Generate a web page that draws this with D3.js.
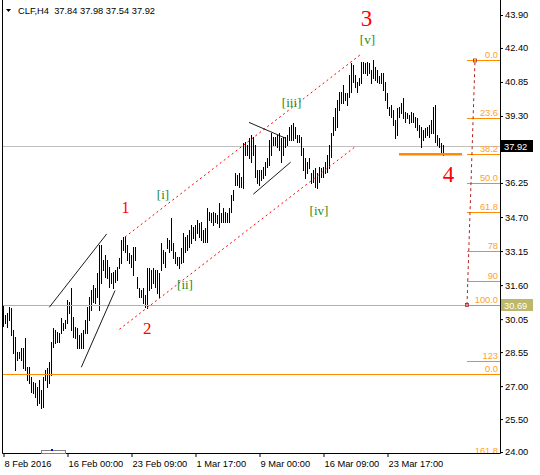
<!DOCTYPE html>
<html>
<head>
<meta charset="utf-8">
<title>CLF,H4</title>
<script src="https://cdn.jsdelivr.net/npm/d3@7"></script>
<style>
    body {
        margin: 0;
        background: #fff;
    }
    svg text {
        font-family: "Liberation Sans", Arial, sans-serif;
        font-size: 9.3px;
    }
    svg text.wave {
        font-family: "Liberation Serif", "Times New Roman", serif;
    }
</style>
</head>
<body>
<div id="chart"></div>
<script>
    // H4 bars, high / low per bar
    const highs = [
        30.69, 30.24, 30.33, 30.60, 30.56, 29.56, 29.24, 28.55, 28.55, 28.74,
        28.74, 29.19, 27.87, 27.87, 27.42, 27.19, 27.14, 26.96, 27.28, 26.82,
        27.42, 27.73, 27.83, 28.10, 29.01, 29.65, 29.56, 29.46, 29.42, 30.10,
        29.87, 30.01, 30.92, 30.83, 31.47, 30.15, 29.69, 29.65, 29.33, 29.42,
        29.56, 30.01, 30.60, 31.06, 31.38, 31.60, 31.47, 32.15, 33.43, 33.43,
        32.74, 32.97, 32.74, 32.42, 32.15, 32.20, 32.29, 32.42, 32.84, 33.65,
        33.79, 33.79, 33.43, 33.06, 32.97, 33.34, 33.34, 31.97, 31.47, 31.38,
        31.47, 31.15, 32.38, 32.38, 32.29, 32.38, 32.29, 32.29, 32.15, 33.52,
        33.20, 33.11, 33.75, 33.65, 34.66, 33.52, 33.11, 32.88, 32.88, 33.29,
        33.97, 33.79, 33.88, 34.11, 34.34, 34.25, 34.34, 34.57, 34.43, 34.47,
        34.11, 34.20, 35.11, 34.93, 34.88, 34.93, 34.88, 34.79, 35.34, 34.88,
        35.11, 34.93, 34.88, 35.11, 35.70, 35.93, 36.71, 36.61, 36.71, 36.52,
        38.07, 38.12, 37.98, 38.30, 38.44, 38.34, 37.98, 36.84, 36.84, 36.84,
        36.98, 37.21, 37.39, 38.21, 38.53, 38.34, 38.34, 38.44, 38.53, 38.30,
        38.34, 38.34, 38.44, 38.80, 38.89, 38.98, 38.80, 38.44, 38.44, 38.34,
        37.84, 37.39, 37.21, 37.39, 36.71, 36.84, 36.93, 36.71, 36.98, 36.93,
        36.98, 37.21, 37.52, 37.98, 38.53, 39.26, 39.67, 40.03, 40.39, 40.39,
        40.71, 40.35, 40.35, 41.17, 41.71, 41.62, 41.17, 40.85, 41.03, 41.76,
        41.76, 41.71, 41.76, 41.71, 41.40, 41.85, 41.53, 41.40, 41.12, 41.26,
        41.26, 40.85, 40.35, 39.71, 39.80, 39.57, 39.12, 39.67, 39.71, 39.89,
        40.12, 39.48, 39.44, 39.35, 39.48, 39.44, 39.26, 39.21, 38.89, 38.80,
        38.66, 38.75, 38.80, 38.89, 39.12, 39.71, 39.80, 38.44, 38.30, 38.07, 37.98
    ];
    const lows = [
        29.74, 29.87, 29.69, 30.01, 29.33, 28.51, 27.73, 28.19, 28.28, 28.19,
        27.83, 27.73, 27.28, 27.14, 26.73, 26.69, 26.50, 26.14, 26.23, 26.00,
        26.05, 27.28, 26.96, 27.14, 27.51, 28.78, 28.96, 29.01, 29.01, 29.42,
        29.56, 29.65, 29.87, 30.33, 29.56, 29.24, 29.19, 28.74, 28.74, 28.74,
        28.74, 29.42, 29.42, 30.01, 30.47, 30.83, 30.78, 31.06, 30.47, 31.70,
        32.29, 31.97, 31.92, 31.51, 31.70, 31.47, 31.74, 31.83, 32.38, 32.61,
        33.20, 33.11, 32.74, 32.61, 32.42, 32.06, 32.74, 31.47, 31.06, 31.06,
        30.78, 30.60, 30.56, 31.38, 31.47, 31.70, 31.51, 31.24, 31.06, 32.29,
        32.61, 32.42, 33.29, 33.11, 33.20, 32.84, 32.61, 32.52, 32.38, 32.61,
        32.65, 33.11, 33.20, 33.34, 33.52, 33.75, 33.65, 33.97, 33.79, 33.65,
        33.56, 33.56, 33.56, 34.57, 34.47, 34.34, 34.47, 34.43, 34.25, 34.47,
        34.47, 34.47, 34.47, 34.47, 34.93, 35.48, 36.16, 36.16, 36.07, 36.07,
        36.02, 37.52, 37.52, 37.39, 37.21, 37.52, 36.52, 36.25, 36.16, 36.39,
        36.48, 36.61, 36.98, 37.07, 37.52, 37.98, 37.98, 37.89, 37.75, 37.21,
        37.52, 37.89, 37.98, 38.21, 38.21, 38.21, 38.30, 38.12, 38.12, 37.52,
        36.84, 36.48, 36.71, 36.93, 36.25, 36.30, 36.07, 36.02, 36.30, 36.52,
        36.52, 36.71, 36.75, 36.93, 37.43, 38.44, 38.66, 38.80, 39.57, 39.89,
        39.89, 40.03, 39.80, 40.17, 40.39, 40.85, 40.62, 40.39, 40.71, 40.80,
        41.26, 41.26, 41.17, 41.26, 40.80, 41.03, 40.94, 40.85, 40.80, 40.80,
        40.48, 40.03, 39.67, 39.35, 39.26, 38.89, 38.30, 38.44, 39.26, 39.44,
        39.21, 39.03, 39.21, 38.98, 39.03, 39.03, 38.80, 38.66, 38.34, 37.89,
        38.21, 38.34, 38.44, 38.34, 38.53, 38.53, 38.12, 37.98, 37.89, 37.66, 37.54
    ];
    const lastBar = [37.84, 37.98, 37.54, 37.92]; // O H L C

    const timeTicks = [0, 32, 64, 96, 128, 160, 192];
    const timeLabels = ['8 Feb 2016', '16 Feb 00:00', '23 Feb 09:00', '1 Mar 17:00',
                        '9 Mar 00:00', '16 Mar 09:00', '23 Mar 17:00'];
    const priceTicks = [43.90, 42.40, 40.85, 39.30, 37.75, 36.25, 34.70, 33.15,
                        31.60, 30.05, 28.55, 27.00, 25.50, 24.00];

    // fibonacci retracement (bar index, price) and its levels
    const fibFrom = [232, 30.69], fibTo = [236, 41.83];
    const fibLevels = [0, 23.6, 38.2, 50, 61.8, 78, 90, 100, 123, 161.8];
    const fibLabels = ['0.0', '23.6', '38.2', '50.0', '61.8', '78', '90', '100.0', '123', '161.8'];

    const supportLine = 30.69;     // olive horizontal line
    const secondFibZero = 27.55;   // full-width orange line
    const targetLine = [198, 229.5, 37.56];

    const channel = [
        [[61, 33.79], [178.5, 42.08]],
        [[58.2, 29.59], [176.8, 37.95]]
    ];
    const trendLines = [
        [[23.15, 30.59], [51.85, 33.93]],
        [[39.15, 27.86], [56, 31.35]],
        [[123, 39.01], [141, 38.30]],
        [[125.15, 35.74], [143.85, 37.20]]
    ];
    const waves = [
        { t: '1', bar: 61.25, price: 34.88, size: 16 },
        { t: '2', bar: 72.1, price: 29.37, size: 17 },
        { t: '3', bar: 181.7, price: 43.40, size: 23 },
        { t: '4', bar: 222.7, price: 36.30, size: 23 }
    ];
    const subWaves = [
        { t: '[i]', bar: 80, price: 35.52 },
        { t: '[ii]', bar: 91, price: 31.40 },
        { t: '[iii]', bar: 144.3, price: 39.71 },
        { t: '[iv]', bar: 158, price: 34.77 },
        { t: '[v]', bar: 182.2, price: 42.60 }
    ];

    const W = 540, H = 475;
    const left = 2, right = 500, bottom = 453;
    const orange = '#ff8c00', orangeText = '#ffa12a', olive = '#bdb76b', green = '#228b22';

    const x = d3.scaleLinear().domain([0, highs.length - 1]).range([3, 443]);
    const y = d3.scaleLinear().domain([24.00, 43.90]).range([452, 15]);
    const px = v => Math.round(v) + 0.5;

    const svg = d3.select('#chart').append('svg')
        .attr('width', W)
        .attr('height', H)
        .style('display', 'block');

    svg.append('defs').append('clipPath').attr('id', 'plotClip')
        .append('rect')
        .attr('x', left).attr('y', 0)
        .attr('width', right - left).attr('height', bottom);

    const plot = svg.append('g').attr('clip-path', 'url(#plotClip)');

    // bid line
    plot.append('line')
        .attr('x1', left).attr('x2', right)
        .attr('y1', px(y(lastBar[3]))).attr('y2', px(y(lastBar[3])))
        .attr('stroke', '#c0c0c0');

    // bars
    plot.append('g')
        .attr('shape-rendering', 'crispEdges')
        .selectAll('line')
        .data(highs)
        .join('line')
        .attr('x1', (d, i) => px(x(i)))
        .attr('x2', (d, i) => px(x(i)))
        .attr('y1', d => Math.round(y(d)))
        .attr('y2', (d, i) => Math.round(y(lows[i])) + 1)
        .attr('stroke', '#000');

    // horizontal lines
    plot.append('line')
        .attr('x1', left).attr('x2', right)
        .attr('y1', px(y(supportLine))).attr('y2', px(y(supportLine)))
        .attr('stroke', olive);

    plot.append('line')
        .attr('x1', left).attr('x2', right)
        .attr('y1', px(y(secondFibZero))).attr('y2', px(y(secondFibZero)))
        .attr('stroke', orange);

    plot.append('line')
        .attr('x1', x(targetLine[0])).attr('x2', x(targetLine[1]))
        .attr('y1', y(targetLine[2])).attr('y2', y(targetLine[2]))
        .attr('stroke', orange)
        .attr('stroke-width', 2.5);

    // channel
    plot.append('g').selectAll('line')
        .data(channel)
        .join('line')
        .attr('x1', d => x(d[0][0])).attr('y1', d => y(d[0][1]))
        .attr('x2', d => x(d[1][0])).attr('y2', d => y(d[1][1]))
        .attr('stroke', '#ff0000')
        .attr('stroke-dasharray', '2,3');

    // trend lines
    plot.append('g').selectAll('line')
        .data(trendLines)
        .join('line')
        .attr('x1', d => x(d[0][0])).attr('y1', d => y(d[0][1]))
        .attr('x2', d => x(d[1][0])).attr('y2', d => y(d[1][1]))
        .attr('stroke', '#000')
        .attr('stroke-width', 0.9);

    // fibo levels
    const fibRange = fibTo[1] - fibFrom[1];
    const fibPrice = lv => fibTo[1] - fibRange * lv / 100;

    plot.append('g')
        .attr('shape-rendering', 'crispEdges')
        .selectAll('line')
        .data(fibLevels)
        .join('line')
        .attr('x1', x(fibFrom[0])).attr('x2', right)
        .attr('y1', d => px(y(fibPrice(d)))).attr('y2', d => px(y(fibPrice(d))))
        .attr('stroke', orange);

    plot.append('line')
        .attr('x1', x(fibFrom[0])).attr('y1', y(fibFrom[1]))
        .attr('x2', x(fibTo[0])).attr('y2', y(fibTo[1]))
        .attr('stroke', '#b22222')
        .attr('stroke-dasharray', '3,3');

    plot.append('g').selectAll('rect')
        .data([fibFrom, fibTo])
        .join('rect')
        .attr('x', d => x(d[0]) - 1.5).attr('y', d => y(d[1]) - 1.5)
        .attr('width', 3).attr('height', 3)
        .attr('fill', 'none')
        .attr('stroke', '#b22222')
        .attr('stroke-width', 0.8);

    svg.append('g').selectAll('text')
        .data(fibLevels)
        .join('text')
        .attr('x', 498)
        .attr('y', d => y(fibPrice(d)) - 2)
        .attr('text-anchor', 'end')
        .attr('fill', orangeText)
        .text((d, i) => fibLabels[i]);

    svg.append('text')
        .attr('x', 498)
        .attr('y', y(secondFibZero) - 2)
        .attr('text-anchor', 'end')
        .attr('fill', orangeText)
        .text('0.0');

    // wave labels
    svg.append('g').selectAll('text')
        .data(waves)
        .join('text')
        .attr('class', 'wave')
        .attr('x', d => x(d.bar))
        .attr('y', d => y(d.price))
        .attr('text-anchor', 'middle')
        .style('font-size', d => d.size + 'px')
        .attr('fill', '#ff0000')
        .text(d => d.t);

    svg.append('g').selectAll('text')
        .data(subWaves)
        .join('text')
        .attr('class', 'wave')
        .attr('x', d => x(d.bar))
        .attr('y', d => y(d.price))
        .attr('text-anchor', 'middle')
        .style('font-size', '13px')
        .attr('fill', green)
        .text(d => d.t);

    // price boxes (bid and the horizontal line) cover the tick labels they sit on
    const boxes = [[lastBar[3], '#000'], [supportLine, olive]];
    const covered = v => boxes.some(b => Math.abs(y(b[0]) - y(v)) < 9);

    // price axis
    svg.append('g')
        .attr('transform', `translate(${right},0)`)
        .call(d3.axisRight(y).tickValues(priceTicks)
            .tickFormat(d => covered(d) ? '' : d3.format('.2f')(d))
            .tickSize(3).tickPadding(2).tickSizeOuter(0))
        .call(g => g.select('.domain').remove())
        .call(g => g.selectAll('text').attr('fill', '#000'))
        .attr('font-family', null).attr('font-size', null);

    const box = svg.append('g').selectAll('g')
        .data(boxes)
        .join('g')
        .attr('transform', d => `translate(${right + 1},${Math.round(y(d[0])) - 6})`);
    box.append('rect')
        .attr('width', 32).attr('height', 12)
        .attr('fill', d => d[1]);
    box.append('text')
        .attr('x', 3).attr('y', 9.5)
        .attr('fill', '#fff')
        .text(d => d[0].toFixed(2));

    // time axis
    svg.append('g')
        .attr('transform', `translate(0,${bottom})`)
        .call(d3.axisBottom(x).tickValues(timeTicks).tickFormat((d, i) => timeLabels[i])
            .tickSize(4).tickPadding(3).tickSizeOuter(0))
        .call(g => g.select('.domain').remove())
        .call(g => g.selectAll('.tick line').attr('transform', 'translate(0.5,0)'))
        .call(g => g.selectAll('text').attr('text-anchor', 'start').attr('dx', 1).attr('fill', '#000'))
        .attr('font-family', null).attr('font-size', null);

    // frame
    svg.append('path')
        .attr('d', `M${left + 0.5},0V${bottom + 0.5}H${right + 0.5}V0`)
        .attr('fill', 'none')
        .attr('stroke', '#000');

    // scroll marker at bottom
    svg.append('rect')
        .attr('x', 41.5).attr('y', 450.5).attr('width', 24).attr('height', 3)
        .attr('fill', 'none').attr('stroke', '#808080');
    svg.append('rect')
        .attr('x', 51).attr('y', 449).attr('width', 2).attr('height', 2)
        .attr('fill', '#0000ff');

    // header
    svg.append('path')
        .attr('d', 'M6,9H11L8.5,12Z')
        .attr('fill', '#000');
    svg.append('text')
        .attr('x', 18).attr('y', 13.5)
        .attr('fill', '#000')
        .attr('xml:space', 'preserve')
        .text('CLF,H4  ' + lastBar.map(d => d.toFixed(2)).join(' '));
</script>
</body>
</html>
